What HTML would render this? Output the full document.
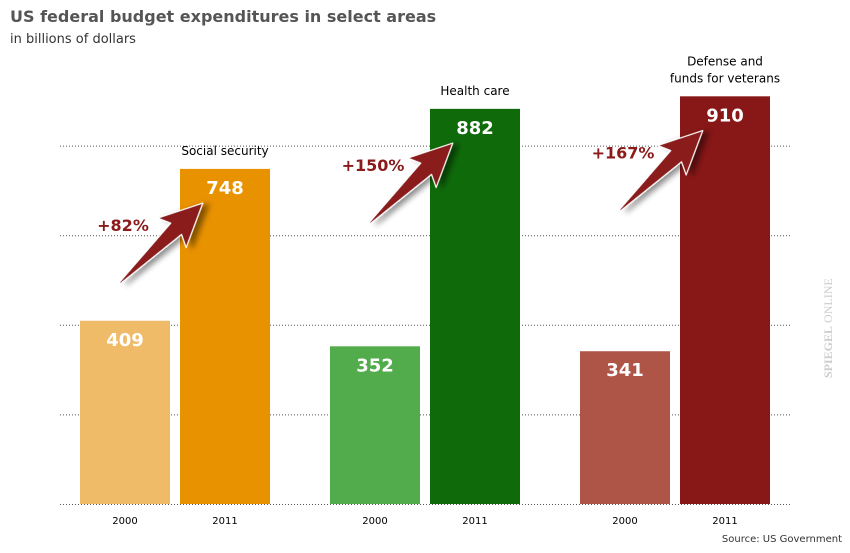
<!DOCTYPE html>
<html><head><meta charset="utf-8"><style>
body{margin:0;background:#fff;font-family:"Liberation Sans","DejaVu Sans",sans-serif}
</style></head><body>
<svg id="c" width="850" height="548" xmlns="http://www.w3.org/2000/svg" style="font-family:'DejaVu Sans','Liberation Sans',sans-serif">
<defs><filter id="sh" x="-30%" y="-30%" width="160%" height="160%"><feDropShadow dx="4" dy="5" stdDeviation="3" flood-color="#000" flood-opacity="0.45"/></filter></defs>
<text x="10" y="22" font-size="16" font-weight="bold" fill="#555">US federal budget expenditures in select areas</text>
<text x="10" y="43" font-size="13" fill="#333">in billions of dollars</text>
<text x="0" y="0" transform="translate(832,378) rotate(-90)" font-size="12" fill="#ccc" font-family="'Liberation Serif',serif"><tspan font-weight="bold">SPIEGEL</tspan> ONLINE</text>
<text x="842" y="542" text-anchor="end" font-size="10" fill="#333">Source: US Government</text>
<g id="grid"></g><g id="bars"></g>
</svg>
<script>
const categories=["Social security","Health care","Defense and funds for veterans"];
const values2000=[409,352,341];
const values2011=[748,882,910];
const changeLabels=["+82%","+150%","+167%"];
const gridTicks=[0,200,400,600,800];
const colors2000=["#f0bb69","#52ac4c","#af5548"];
const colors2011=["#e99200","#0f6b0a","#881717"];
const NS="http://www.w3.org/2000/svg";
const base=504, sc=0.448;
const y=v=>base-v*sc;
const groupX=i=>80+i*250;
function mk(t,a,p){const e=document.createElementNS(NS,t);for(const k in a)e.setAttribute(k,a[k]);p.appendChild(e);return e;}
const grid=document.getElementById('grid'),bars=document.getElementById('bars');
gridTicks.forEach(t=>{const l=mk('line',{x1:60,x2:790,y1:y(t)+0.5,y2:y(t)+0.5,stroke:'#555','stroke-width':1,'stroke-dasharray':'1,2'},grid);

});
categories.forEach((c,i)=>{
 const gx=groupX(i);
 [[values2000[i],colors2000[i],gx,'2000'],[values2011[i],colors2011[i],gx+100,'2011']].forEach(([v,col,x,yr])=>{
  const r=mk('rect',{x:x,y:y(v),width:90,height:v*sc,fill:col},bars);
  
  
  const t=mk('text',{x:x+45,y:y(v)+25,'text-anchor':'middle','font-size':18,'font-weight':'bold',fill:'#fff'},bars);t.textContent=v;
  
  
  const yl=mk('text',{x:x+45,y:524,'text-anchor':'middle','font-size':10,fill:'#000'},bars);yl.textContent=yr;
  
  
 });
 const top=y(values2011[i]);
 const words=c==="Defense and funds for veterans"?["Defense and","funds for veterans"]:[c];
 words.forEach((w,k)=>{const t=mk('text',{x:gx+145,y:top-14-(words.length-1-k)*17,'text-anchor':'middle','font-size':12,fill:'#000'},bars);t.textContent=w;
  
  });
 const hx=gx+123, hy=top+34;
 const ang=Math.atan2(-80,83)*180/Math.PI;
 const a=mk('polygon',{points:'0,-0.8 80,-8 74,-21 118,0 74,21 80,8 0,0.8',fill:'#8b1a1a',stroke:'#fff','stroke-width':1.2,'stroke-linejoin':'round',filter:'url(#sh)',transform:`translate(${hx-83},${hy+80}) rotate(${ang}) scale(${115/118})`},bars);
 
 
 const pt=mk('text',{x:hx-80,y:hy+28,'text-anchor':'middle','font-size':16,'font-weight':'bold',fill:'#8b1a1a'},bars);pt.textContent=changeLabels[i];
 
 
});
</script>
</body></html>
